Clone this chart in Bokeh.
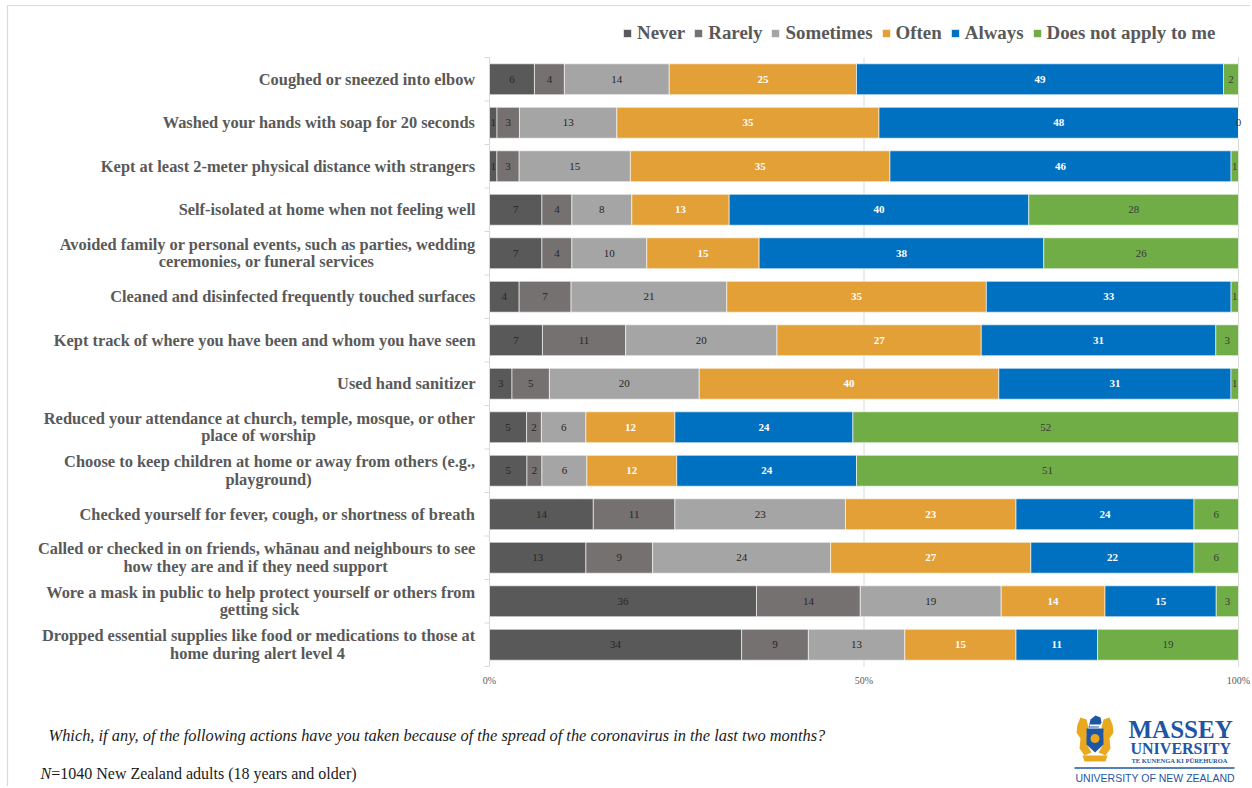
import numpy as np
from bokeh.plotting import figure
from bokeh.models import ColumnDataSource, Range1d, Legend, LegendItem
from bokeh.core.properties import value
from bokeh.embed import file_html
from bokeh.resources import INLINE

# ---------------- data ----------------
categories = [
    "Coughed or sneezed into elbow",
    "Washed your hands with soap for 20 seconds",
    "Kept at least 2-meter physical distance with strangers",
    "Self-isolated at home when not feeling well",
    "Avoided family or personal events, such as parties, wedding\nceremonies, or funeral services",
    "Cleaned and disinfected frequently touched surfaces",
    "Kept track of where you have been and whom you have seen",
    "Used hand sanitizer",
    "Reduced your attendance at church, temple, mosque, or other\nplace of worship",
    "Choose to keep children at home or away from others (e.g.,\nplayground)",
    "Checked yourself for fever, cough, or shortness of breath",
    "Called or checked in on friends, whānau and neighbours to see\nhow they are and if they need support",
    "Wore a mask in public to help protect yourself or others from\ngetting sick",
    "Dropped essential supplies like food or medications to those at\nhome during alert level 4",
]
series_names = ["Never", "Rarely", "Sometimes", "Often", "Always", "Does not apply to me"]
never     = [6, 1, 1, 7, 7, 4, 7, 3, 5, 5, 14, 13, 36, 34]
rarely    = [4, 3, 3, 4, 4, 7, 11, 5, 2, 2, 11, 9, 14, 9]
sometimes = [14, 13, 15, 8, 10, 21, 20, 20, 6, 6, 23, 24, 19, 13]
often     = [25, 35, 35, 13, 15, 35, 27, 40, 12, 12, 23, 27, 14, 15]
always    = [49, 48, 46, 40, 38, 33, 31, 31, 24, 24, 24, 22, 15, 11]
not_apply = [2, 0, 1, 28, 26, 1, 3, 1, 52, 51, 6, 6, 3, 19]
x_ticks = [0, 0.5, 1]
x_tick_labels = ["0%", "50%", "100%"]

# ---------------- style / layout ----------------
colors = ["#595959", "#767171", "#a5a5a5", "#e3a037", "#0070c0", "#70ad47"]
label_colors = ["#262626", "#262626", "#262626", "white", "white", "#3a3a3a"]
label_styles = ["normal", "normal", "normal", "bold", "bold", "normal"]
TXT = "#595959"
SERIF = "Liberation Serif"
BLUE = "#1f56a3"
GOLD = "#e9a81e"
GRID = "#d9d9d9"

W, H = 1250, 786                 # canvas (page pixels)
L, R, T, B = 489, 1238, 57, 666  # plot area of the bars, page pixels

keys = ["never", "rarely", "sometimes", "often", "always", "na"]
vals = np.array([never, rarely, sometimes, often, always, not_apply], dtype=float)
fracs = vals / vals.sum(axis=0)
n = len(categories)
ys = [n - k - 0.5 for k in range(n)]

# pixel-space default ranges (for layout texts), data ranges for the bars
px_w = R - L
row_px = (B - T) / n
pct_range = Range1d(-L / px_w, (W - L) / px_w)
rows_range = Range1d(-(H - B) / row_px, n + T / row_px)

p = figure(width=W, height=H, x_range=Range1d(0, W), y_range=Range1d(H, 0),
           output_backend="svg", toolbar_location=None, tools="",
           x_axis_type=None, y_axis_type=None, min_border=0,
           outline_line_color=None, background_fill_color="white", border_fill_color="white")
p.extra_x_ranges = {"pct": pct_range}
p.extra_y_ranges = {"rows": rows_range}
D = dict(x_range_name="pct", y_range_name="rows")

# outer border (top and left edges visible)
p.line(x=[7, 7, W + 5], y=[H + 5, 5, 5], line_color=GRID, line_width=1.2)

# grid lines at 50% / 100% and left axis with ticks between categories
p.segment(x0=x_ticks[1:], y0=[0] * 2, x1=x_ticks[1:], y1=[n] * 2, line_color=GRID, line_width=1, **D)
p.segment(x0=[0], y0=[0], x1=[0], y1=[n], line_color=GRID, line_width=1, **D)
p.ray(x=[0] * (n + 1), y=list(range(n + 1)), length=5, length_units="screen", angle=np.pi,
      line_color=GRID, line_width=1, **D)

src = ColumnDataSource({"y": ys, **{k: list(f) for k, f in zip(keys, fracs)}})
rs = p.hbar_stack(keys, y="y", height=0.71, color=colors, source=src,
                  line_color="white", line_width=0.6, **D)

# value labels inside the segments
mids = np.cumsum(fracs, axis=0) - fracs / 2
for i in range(len(keys)):
    s = ColumnDataSource(dict(x=list(mids[i]), y=ys, t=[str(int(v)) for v in vals[i]]))
    p.text(x="x", y="y", text="t", source=s, text_align="center", text_baseline="middle",
           text_font=value(SERIF), text_font_size=value("11px"), text_color=label_colors[i],
           text_font_style=label_styles[i], **D)

# x tick labels
p.text(x=x_ticks, y=[0] * 3, text=x_tick_labels, y_offset=14, text_align="center",
       text_baseline="middle", text_font=value(SERIF), text_font_size=value("10px"),
       text_color=TXT, **D)

# category labels
second_line_centers = {4: 266, 8: 258, 9: 268, 11: 255, 12: 259, 13: 257}
cat_style = dict(text_baseline="middle", text_font=value(SERIF), text_font_style="bold",
                 text_font_size=value("16.4px"), text_color=TXT, y_range_name="rows")
for k, cat in enumerate(categories):
    lines = cat.split("\n")
    if len(lines) == 1:
        p.text(x=[475], y=[ys[k]], text=[lines[0]], text_align="right", **cat_style)
    else:
        p.text(x=[475], y=[ys[k]], text=[lines[0]], text_align="right", y_offset=-9, **cat_style)
        p.text(x=[second_line_centers[k]], y=[ys[k]], text=[lines[1]], text_align="center",
               y_offset=8.5, **cat_style)

# legend
legend = Legend(items=[LegendItem(label=nm, renderers=[r]) for nm, r in zip(series_names, rs)],
                location=(622, H - 44), orientation="horizontal",
                glyph_width=10, glyph_height=10, label_standoff=5, spacing=8,
                padding=0, margin=0, border_line_color=None, background_fill_alpha=0,
                label_text_font=SERIF, label_text_font_style="bold",
                label_text_font_size="18.9px", label_text_color=TXT)
p.add_layout(legend)

# footer texts
foot = dict(text_baseline="middle", text_font=value(SERIF), text_color="#1a1a1a")
p.text(x=[48], y=[735], text=["Which, if any, of the following actions have you taken because "
                              "of the spread of the coronavirus in the last two months?"],
       text_font_style="italic", text_font_size=value("16.4px"), **foot)
p.text(x=[40], y=[773], text=["N"], text_font_style="italic", text_font_size=value("16px"), **foot)
p.text(x=[50.7], y=[773], text=["=1040 New Zealand adults (18 years and older)"],
       text_font_size=value("16px"), **foot)

# logo (simplified crest + wordmark)
def shape(pts, color):
    p.patch(x=[a for a, b in pts], y=[b for a, b in pts], fill_color=color, line_color=None)

left_sup = [(1077, 724), (1080, 717), (1086, 719), (1088, 727), (1086, 733), (1087, 745),
            (1091, 752), (1084, 755), (1079, 748), (1080, 738), (1076, 732)]
shape(left_sup, GOLD)
shape([(2 * 1094.5 - a, b) for a, b in left_sup], GOLD)
shape([(1082, 755), (1107, 755), (1105, 761), (1084, 761)], GOLD)
shape([(1088, 727), (1090, 719), (1095, 715), (1100, 717), (1101, 722), (1098, 727)], BLUE)
shape([(1089, 724), (1100, 724), (1100, 726), (1089, 726)], "white")
shape([(1086, 728), (1103, 728), (1103, 744), (1094.5, 752), (1086, 744)], BLUE)
ang = np.linspace(0, 2 * np.pi, 20, endpoint=False)
shape([(1094.5 + 4.5 * np.cos(a), 738 + 4.5 * np.sin(a)) for a in ang], GOLD)

logo = dict(text_baseline="middle", text_font=value(SERIF), text_font_style="bold", text_color=BLUE)
p.text(x=[1128], y=[729], text=["MASSEY"], text_font_size=value("25px"), **logo)
p.text(x=[1130], y=[748], text=["UNIVERSITY"], text_font_size=value("16px"), **logo)
p.text(x=[1131], y=[760], text=["TE KUNENGA KI PŪREHUROA"], text_font_size=value("6.5px"), **logo)
p.line(x=[1074, 1234], y=[767.5, 767.5], line_color=BLUE, line_width=1.3)
p.text(x=[1075], y=[777], text=["UNIVERSITY OF NEW ZEALAND"], text_baseline="middle",
       text_font=value("Liberation Sans"), text_font_size=value("10.5px"), text_color=BLUE)

with open("out.html", "w") as f:
    f.write(file_html(p, INLINE))
